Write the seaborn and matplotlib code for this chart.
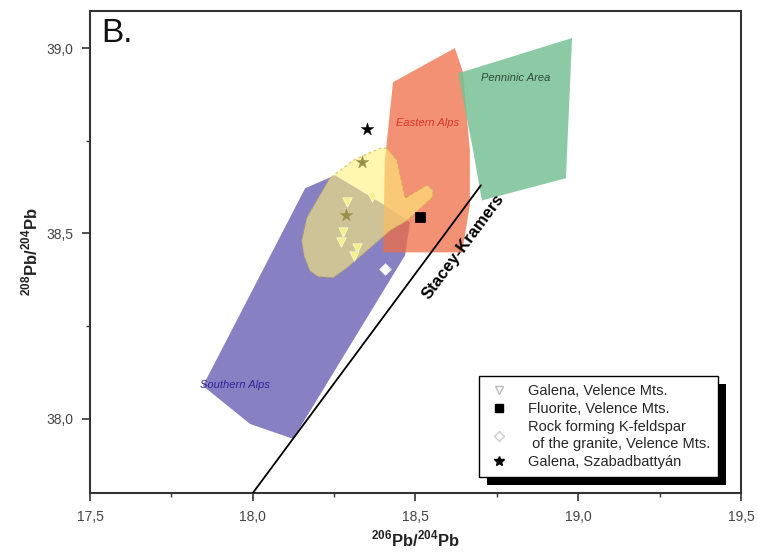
import numpy as np
import pandas as pd
import matplotlib
matplotlib.use("Agg")
import matplotlib.pyplot as plt
from matplotlib.patches import Polygon, Rectangle
from matplotlib.lines import Line2D
from matplotlib.ticker import MultipleLocator, FuncFormatter
import seaborn as sns

sns.set_theme(style="white")
plt.rcParams["font.family"] = ["Liberation Sans", "DejaVu Sans"]
plt.rcParams["mathtext.fontset"] = "custom"
plt.rcParams["mathtext.rm"] = "Liberation Sans:bold"
plt.rcParams["mathtext.bf"] = "Liberation Sans:bold"

# ---- field outlines (206Pb/204Pb, 208Pb/204Pb) ----
southern_x = [17.847, 17.992, 18.124, 18.468, 18.483, 18.406, 18.253, 18.161]
southern_y = [38.089, 37.986, 37.946, 38.441, 38.530, 38.576, 38.657, 38.622]

eastern_x = [18.431, 18.621, 18.646, 18.667, 18.667, 18.643, 18.400, 18.406]
eastern_y = [38.908, 39.000, 38.935, 38.724, 38.576, 38.449, 38.449, 38.697]

penninic_x = [18.981, 18.631, 18.677, 18.704, 18.962]
penninic_y = [39.027, 38.932, 38.724, 38.589, 38.649]

velence_x = [18.412, 18.443, 18.468, 18.535, 18.554, 18.551, 18.474, 18.422,
             18.290, 18.247, 18.200, 18.176, 18.158, 18.151, 18.167, 18.237,
             18.308, 18.391]
velence_y = [38.730, 38.697, 38.595, 38.630, 38.616, 38.597, 38.535, 38.508,
             38.408, 38.381, 38.384, 38.400, 38.440, 38.481, 38.543, 38.649,
             38.697, 38.730]

# Stacey-Kramers growth curve
sk_x = [17.980, 18.701]
sk_y = [37.776, 38.630]

# ---- samples ----
galena_velence_x = [18.290, 18.366, 18.277, 18.271, 18.320, 18.311]
galena_velence_y = [38.584, 38.597, 38.503, 38.478, 38.462, 38.438]

fluorite_x = [18.514]
fluorite_y = [38.545]

kfeldspar_x = [18.406]
kfeldspar_y = [38.405]

galena_szab_x = [18.351, 18.336, 18.287]
galena_szab_y = [38.781, 38.694, 38.551]

legend_labels = ["Galena, Velence Mts.",
                 "Fluorite, Velence Mts.",
                 "Rock forming K-feldspar\n of the granite, Velence Mts.",
                 "Galena, Szabadbattyán"]

x_ticks = [17.5, 18.0, 18.5, 19.0, 19.5]
y_ticks = [38.0, 38.5, 39.0]

fig = plt.figure(figsize=(7.58, 5.59), dpi=100)
ax = fig.add_axes([0.1187, 0.1181, 0.8589, 0.8622])

ax.add_patch(Polygon(np.column_stack([southern_x, southern_y]), closed=True,
                     facecolor="#8781c3", edgecolor="none", zorder=1))
ax.add_patch(Polygon(np.column_stack([eastern_x, eastern_y]), closed=True,
                     facecolor="#ee6c46", edgecolor="none", alpha=0.75, zorder=2))
ax.add_patch(Polygon(np.column_stack([penninic_x, penninic_y]), closed=True,
                     facecolor="#78c095", edgecolor="none", alpha=0.85, zorder=3))

# Szabadbattyán galena beneath the Velence field
szab = pd.DataFrame({"x": galena_szab_x, "y": galena_szab_y})
sns.scatterplot(data=szab, x="x", y="y", marker="*", s=90, color="black",
                edgecolor="black", linewidth=0.3, ax=ax, zorder=4, legend=False)

ax.add_patch(Polygon(np.column_stack([velence_x, velence_y]), closed=True,
                     facecolor="#fff07a", edgecolor="#c8b040", alpha=0.6,
                     linestyle=(0, (2, 2)), linewidth=1.0, zorder=5))

sns.lineplot(x=sk_x, y=sk_y, color="black", linewidth=1.3, ax=ax, zorder=6,
             sort=False)

gv = pd.DataFrame({"x": galena_velence_x, "y": galena_velence_y})
sns.scatterplot(data=gv, x="x", y="y", marker="v", s=45, color="#f4f08a",
                edgecolor="#fbfad0", linewidth=0.6, ax=ax, zorder=7, legend=False)
fl = pd.DataFrame({"x": fluorite_x, "y": fluorite_y})
sns.scatterplot(data=fl, x="x", y="y", marker="s", s=45, color="black",
                edgecolor="black", ax=ax, zorder=7, legend=False)
kf = pd.DataFrame({"x": kfeldspar_x, "y": kfeldspar_y})
sns.scatterplot(data=kf, x="x", y="y", marker="D", s=35, color="white",
                edgecolor="#e8e8e8", linewidth=0.6, ax=ax, zorder=7, legend=False)

# region names
ax.text(18.538, 38.797, "Eastern Alps", color="#d8362a", fontsize=8,
        style="italic", ha="center", va="center", zorder=8)
ax.text(18.809, 38.919, "Penninic Area", color="#2d4a3c", fontsize=8,
        style="italic", ha="center", va="center", zorder=8)
ax.text(17.945, 38.092, "Southern Alps", color="#2e2496", fontsize=8,
        style="italic", ha="center", va="center", zorder=8)
ax.text(18.648, 38.465, "Stacey-Kramers", color="black", fontsize=12,
        fontweight="bold", rotation=53.4, ha="center", va="center",
        rotation_mode="anchor", zorder=8)

ax.text(0.017, 0.985, "B.", transform=ax.transAxes, fontsize=24,
        ha="left", va="top", color="#111111")

ax.set_xlim(17.5, 19.5)
ax.set_ylim(37.8, 39.1)
ax.set_xticks(x_ticks)
ax.set_yticks(y_ticks)
ax.xaxis.set_minor_locator(MultipleLocator(0.25))
ax.yaxis.set_minor_locator(MultipleLocator(0.25))
comma = FuncFormatter(lambda v, p: f"{v:.1f}".replace(".", ","))
ax.xaxis.set_major_formatter(comma)
ax.yaxis.set_major_formatter(comma)
ax.tick_params(axis="both", which="major", direction="out", length=6,
               width=1.2, color="#333333", labelsize=10, labelcolor="#444444",
               bottom=True, left=True, pad=6)
ax.tick_params(axis="both", which="minor", direction="out", length=3,
               width=1.0, color="#333333", bottom=True, left=True)
for sp in ax.spines.values():
    sp.set_color("#333333")
    sp.set_linewidth(1.5)

ax.set_xlabel(r"$^{206}$Pb/$^{204}$Pb", fontsize=12, fontweight="bold",
              color="#222222", labelpad=4)
ax.set_ylabel(r"$^{208}$Pb/$^{204}$Pb", fontsize=12, fontweight="bold",
              color="#222222", labelpad=4)

handles = [
    Line2D([], [], linestyle="none", marker="v", markersize=6,
           markerfacecolor="white", markeredgecolor="#bbbbbb"),
    Line2D([], [], linestyle="none", marker="s", markersize=6,
           markerfacecolor="black", markeredgecolor="black"),
    Line2D([], [], linestyle="none", marker="D", markersize=5,
           markerfacecolor="white", markeredgecolor="#cccccc"),
    Line2D([], [], linestyle="none", marker="*", markersize=7,
           markerfacecolor="black", markeredgecolor="black"),
]
leg = ax.legend(handles, legend_labels, loc="lower right",
                bbox_to_anchor=(0.965, 0.033), borderaxespad=0,
                fontsize=10.5, frameon=True, fancybox=False, edgecolor="black",
                framealpha=1, handlelength=1.6, handletextpad=1.2,
                labelspacing=0.3, borderpad=0.55)
leg.get_frame().set_linewidth(1.0)
leg.set_zorder(20)

# drop shadow behind the legend box
fig.canvas.draw()
bb = leg.get_window_extent().transformed(ax.transAxes.inverted())
dx = 8 / (ax.bbox.width)
dy = 8 / (ax.bbox.height)
ax.add_patch(Rectangle((bb.x0 + dx, bb.y0 - dy), bb.width, bb.height,
                       transform=ax.transAxes, facecolor="black",
                       edgecolor="none", zorder=19, clip_on=False))

fig.savefig("out.png", dpi=100)
